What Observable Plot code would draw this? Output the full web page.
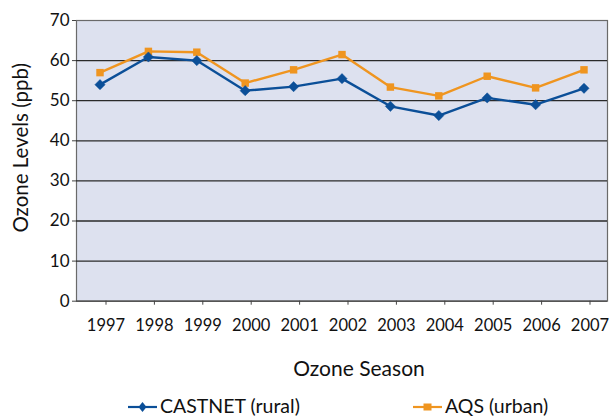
<!DOCTYPE html>
<html>
<head>
<meta charset="utf-8">
<script src="https://cdn.jsdelivr.net/npm/d3@7"></script>
<script src="https://cdn.jsdelivr.net/npm/@observablehq/plot@0.6"></script>
<style>
  html, body { margin: 0; padding: 0; background: #fff; }
  #wrap { position: relative; width: 616px; height: 418px; font-family: Lato, sans-serif; color: #111; }
  #legend { position: absolute; left: 0; top: 390px; width: 616px; height: 28px; font-size: 19.5px; }
  .item { position: absolute; top: 5px; height: 22px; display: flex; align-items: center; white-space: nowrap; line-height: 22px; }
  .item svg { margin-right: 3px; flex: none; }
</style>
</head>
<body>
<div id="wrap"><div id="chart"></div><div id="legend"></div></div>
<script>
const years = [1997, 1998, 1999, 2000, 2001, 2002, 2003, 2004, 2005, 2006, 2007];
const castnet = [54.0, 60.9, 60.0, 52.5, 53.5, 55.5, 48.6, 46.3, 50.7, 49.0, 53.1];
const aqs = [57.0, 62.3, 62.1, 54.4, 57.7, 61.5, 53.4, 51.2, 56.1, 53.2, 57.7];
const yTicks = [0, 10, 20, 30, 40, 50, 60, 70];
const seriesNames = ["CASTNET (rural)", "AQS (urban)"];
const colors = ["#0b4f98", "#ef9520"];

const data = years.flatMap((yr, i) => [
  {year: yr, value: castnet[i], series: seriesNames[0]},
  {year: yr, value: aqs[i], series: seriesNames[1]}
]);
const blue = data.filter(d => d.series === seriesNames[0]);
const orange = data.filter(d => d.series === seriesNames[1]);

const chart = Plot.plot({
  width: 616,
  height: 390,
  marginLeft: 76,
  marginRight: 9,
  marginTop: 20,
  marginBottom: 89.3,
  style: {fontFamily: "Lato, sans-serif", fontSize: "16px", color: "#111", background: "#fff"},
  x: {domain: [1997, 2007], insetLeft: 23.5, insetRight: 23.5},
  y: {domain: [0, 70]},
  marks: [
    Plot.frame({fill: "#dde1ef", stroke: "#6a6a6a", strokeWidth: 1.2}),
    Plot.ruleY(yTicks.filter(d => d > 0 && d < 70), {stroke: "#2a2a2a", strokeWidth: 1.3}),
    Plot.ruleY([0], {stroke: "#444", strokeWidth: 1.3}),
    Plot.axisY(yTicks, {anchor: "left", tickSize: 4, tickPadding: 3, label: null, stroke: "#444", fontSize: 17}),
    Plot.axisX(years, {anchor: "bottom", tickSize: 4, tickPadding: 14, dx: 6, label: null, tickFormat: d => String(d), stroke: "#444", fontSize: 16.5}),
    Plot.text(["Ozone Season"], {frameAnchor: "bottom", textAnchor: "middle", dx: 17, dy: 68, lineAnchor: "middle", fontSize: 21, fill: "#111"}),
    Plot.text(["Ozone Levels (ppb)"], {frameAnchor: "left", textAnchor: "middle", rotate: -90, dx: -55, dy: -13, lineAnchor: "middle", fontSize: 20.5, fill: "#111"}),
    Plot.line(orange, {x: "year", y: "value", stroke: colors[1], strokeWidth: 2.4}),
    Plot.dot(orange, {x: "year", y: "value", symbol: "square", r: 4.2, fill: colors[1]}),
    Plot.line(blue, {x: "year", y: "value", stroke: colors[0], strokeWidth: 2.4}),
    Plot.dot(blue, {x: "year", y: "value", symbol: "diamond2", r: 4.6, fill: colors[0], stroke: colors[0], strokeWidth: 0.5})
  ]
});
document.getElementById("chart").appendChild(chart);

const legend = document.getElementById("legend");
const lefts = [128, 413];
seriesNames.forEach((name, i) => {
  const el = document.createElement("div");
  el.className = "item";
  el.style.left = lefts[i] + "px";
  const cx = 14.5;
  el.innerHTML = `<svg width="29" height="20"><line x1="0" x2="29" y1="11" y2="11" stroke="${colors[i]}" stroke-width="2.2"/>` +
    (i === 0 ? `<path d="M${cx},6 L${cx+4},11 L${cx},16 L${cx-4},11 Z" fill="${colors[i]}"/>`
             : `<rect x="${cx-4}" y="7.5" width="8" height="7" fill="${colors[i]}"/>`) +
    `</svg><span>${name}</span>`;
  legend.appendChild(el);
});
</script>
</body>
</html>
